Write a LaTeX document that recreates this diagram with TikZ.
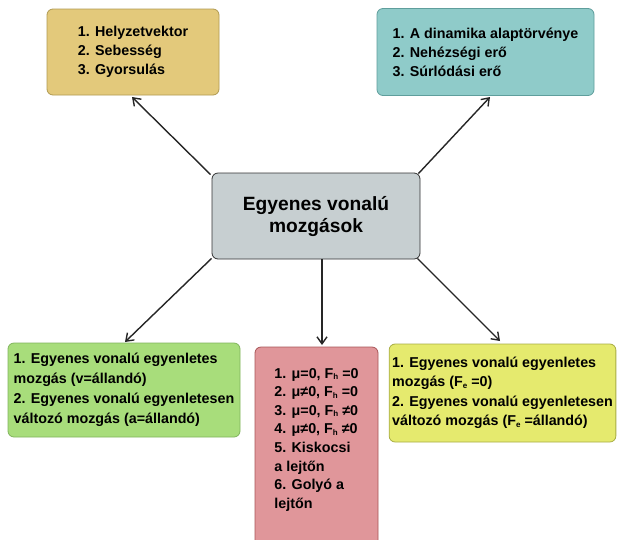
\documentclass[tikz,border=0pt]{standalone}
\usepackage{fontspec}
\setmainfont{Liberation Sans}
\usetikzlibrary{arrows.meta}
\definecolor{tlfill}{HTML}{E3C97B}
\definecolor{tldraw}{HTML}{B09A52}
\definecolor{trfill}{HTML}{8FCBC9}
\definecolor{trdraw}{HTML}{5F9E9C}
\definecolor{cfill}{HTML}{C7CFD1}
\definecolor{cdraw}{HTML}{333333}
\definecolor{blfill}{HTML}{A8DD7B}
\definecolor{bldraw}{HTML}{80B55C}
\definecolor{pkfill}{HTML}{E0969A}
\definecolor{pkdraw}{HTML}{A85658}
\definecolor{yefill}{HTML}{E5EA6E}
\definecolor{yedraw}{HTML}{A9AE45}
\newcommand{\smallsub}[1]{\raisebox{-1.5pt}{\fontsize{8}{8}\selectfont #1}}
\tikzset{
  box/.style={draw, rounded corners=6pt, line width=0.8pt, align=left,
    font=\bfseries\fontsize{14.3}{19.5}\selectfont, text=black},
  link/.style={line width=1.4pt, draw=black!85, -{Straight Barb[length=7pt,width=10pt,line width=1.4pt]}}
}
\begin{document}
\begin{tikzpicture}[x=1pt,y=-1pt]
\clip (0,0) rectangle (618,539);
\fill[white] (0,0) rectangle (618,539);
\node[box, fill=tlfill, draw=tldraw, minimum width=172pt, minimum height=86pt,
  font=\bfseries\fontsize{14.3}{19}\selectfont] (tl) at (133,52)
  {1. Helyzetvektor\\2. Sebesség\\3. Gyorsulás};
\node[box, fill=trfill, draw=trdraw, minimum width=217pt, minimum height=87pt,
  font=\bfseries\fontsize{14.3}{19}\selectfont] (tr) at (485.5,52)
  {1. A dinamika alaptörvénye\\2. Nehézségi erő\\3. Súrlódási erő};
\node[box, fill=cfill, draw=cdraw, align=center, minimum width=208pt, minimum height=86pt,
  font=\bfseries\fontsize{19.2}{22}\selectfont] (c) at (316,216)
  {Egyenes vonalú\\mozgások};
\node[box, fill=blfill, draw=bldraw, inner xsep=3pt, minimum width=232pt, minimum height=94pt,
  font=\bfseries\fontsize{14.3}{20}\selectfont] (bl) at (124,390)
  {1. Egyenes vonalú egyenletes\\mozgás (v=állandó)\\2. Egyenes vonalú egyenletesen\\változó mozgás (a=állandó)};
\node[box, fill=pkfill, draw=pkdraw, minimum width=123pt, minimum height=201pt,
  font=\bfseries\fontsize{14.3}{18.6}\selectfont] (pk) at (316.5,447.5)
  {1. μ=0, F\smallsub{h} =0\\2. μ≠0, F\smallsub{h} =0\\3. μ=0, F\smallsub{h} ≠0\\4. μ≠0, F\smallsub{h} ≠0\\5. Kiskocsi\\a lejtőn\\6. Golyó a\\lejtőn\\~};
\node[box, fill=yefill, draw=yedraw, inner xsep=3pt, minimum width=225pt, minimum height=98pt,
  font=\bfseries\fontsize{14.3}{19.5}\selectfont] (br) at (502.5,393)
  {1. Egyenes vonalú egyenletes\\mozgás (F\smallsub{e} =0)\\2. Egyenes vonalú egyenletesen\\változó mozgás (F\smallsub{e} =állandó)};
\coordinate (etl) at (132,97);
\coordinate (etr) at (490,97);
\coordinate (ebl) at (125,342);
\coordinate (sbm) at (322,259);
\coordinate (ebm) at (322,345);
\coordinate (ebr) at (500,341);
\draw[link] ([shift={(-1,2)}]c.north west) -- (etl);
\draw[link] ([shift={(-2,1)}]c.north east) -- (etr);
\draw[link] ([shift={(0,-1)}]c.south west) -- (ebl);
\draw[link] (sbm) -- (ebm);
\draw[link] ([shift={(-3,-1)}]c.south east) -- (ebr);
\end{tikzpicture}
\end{document}
